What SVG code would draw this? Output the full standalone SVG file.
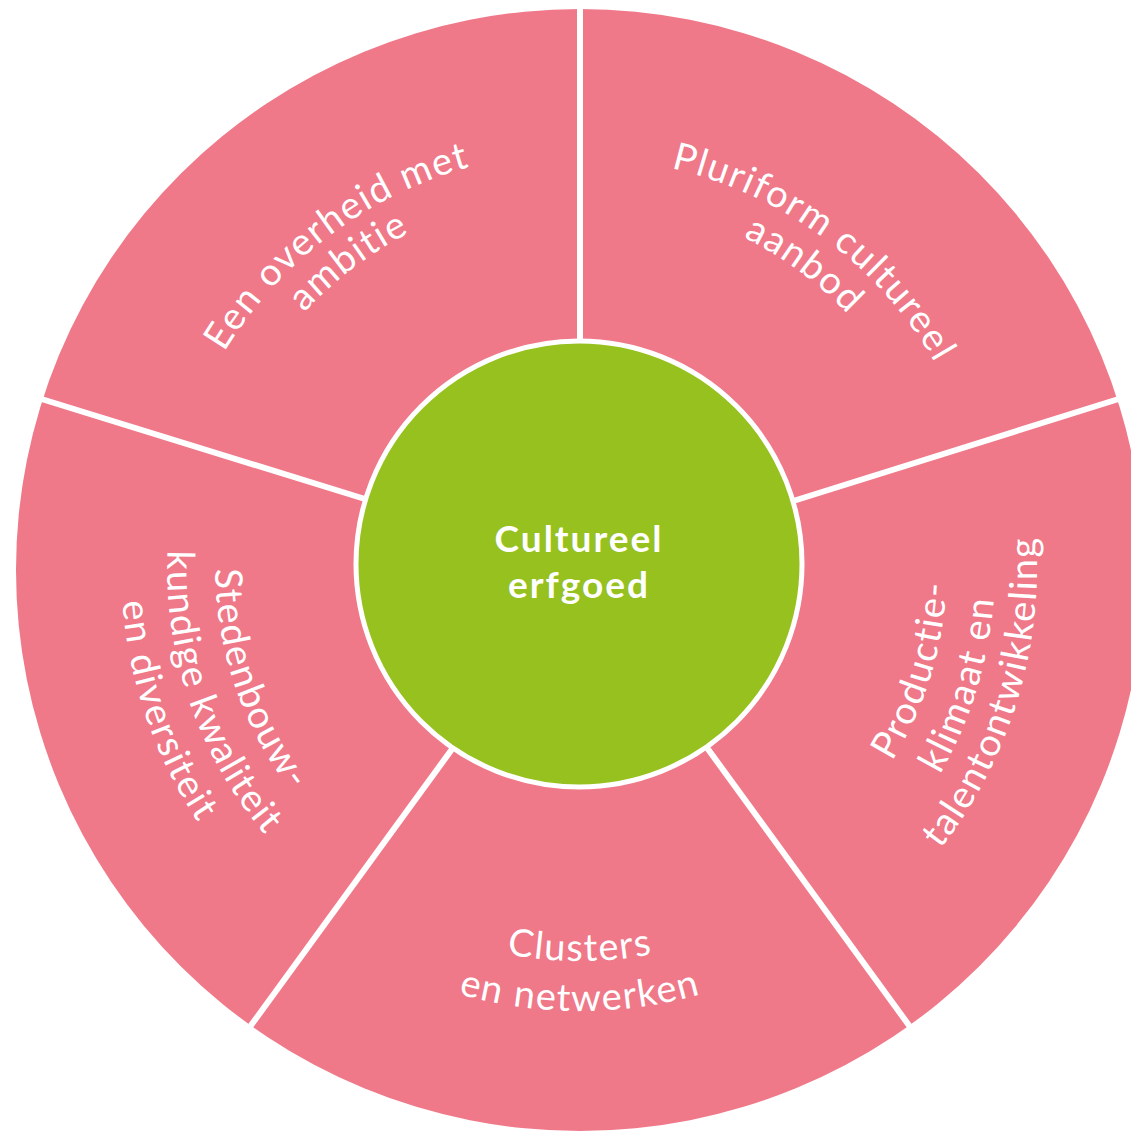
<svg xmlns="http://www.w3.org/2000/svg" xmlns:xlink="http://www.w3.org/1999/xlink" width="1131" height="1134" viewBox="0 0 1131 1134">
<style>
.seg{fill:#EF7889}
.sep{stroke:#FFFFFF;stroke-width:6;fill:none}
.lbl{font-family:Lato,"Liberation Sans",sans-serif;font-size:38px;fill:#FFFFFF;letter-spacing:1.5px}
.ctr{font-family:Lato,"Liberation Sans",sans-serif;font-size:37px;font-weight:700;fill:#FFFFFF;letter-spacing:2px;text-anchor:middle}
</style>
<defs>
<path id="p1a" d="M182.2,689.6 A416,416 0 0 1 806.6,219.1"/>
<path id="p1b" d="M220.4,677.9 A376,376 0 0 1 784.8,252.7"/>
<path id="p2a" d="M353.7,226.1 A410,410 0 0 1 973.1,684.4"/>
<path id="p2b" d="M376.3,260.3 A369,369 0 0 1 933.8,672.8"/>
<path id="p3a" d="M210.7,702.4 A393,393 0 0 0 949.3,702.4"/>
<path id="p3b" d="M163.7,719.5 A443,443 0 0 0 996.3,719.5"/>
<path id="p4a" d="M350.3,284.4 A365,365 0 0 0 573.6,932.9"/>
<path id="p4b" d="M320.1,247.1 A413,413 0 0 0 572.8,980.9"/>
<path id="p4c" d="M291.2,211.3 A459,459 0 0 0 572.0,1026.9"/>
<path id="p5a" d="M599.2,934.5 A367,367 0 0 0 800.9,274.9"/>
<path id="p5b" d="M601.7,982.4 A415,415 0 0 0 829.7,236.6"/>
<path id="p5c" d="M603.9,1024.4 A457,457 0 0 0 855.0,203.0"/>
</defs>
<rect width="1131" height="1134" fill="#FFFFFF"/>
<g id="wheel">
<ellipse class="seg" cx="580" cy="570" rx="564" ry="561"/>
</g>
<g id="connectors">
<line class="sep" x1="580" y1="0" x2="580" y2="350"/>
<line class="sep" x1="1125" y1="397" x2="790" y2="502"/>
<line class="sep" x1="35" y1="397" x2="365" y2="499"/>
<line class="sep" x1="244" y1="1035" x2="455" y2="745"/>
<line class="sep" x1="916" y1="1035" x2="705" y2="745"/>
</g>
<g id="node-overheid">
<text class="lbl" text-anchor="middle"><textPath xlink:href="#p1a" href="#p1a" startOffset="50%">Een overheid met</textPath></text>
<text class="lbl" text-anchor="middle"><textPath xlink:href="#p1b" href="#p1b" startOffset="50%">ambitie</textPath></text>
</g>
<g id="node-pluriform">
<text class="lbl" text-anchor="middle"><textPath xlink:href="#p2a" href="#p2a" startOffset="50%">Pluriform cultureel</textPath></text>
<text class="lbl" text-anchor="middle"><textPath xlink:href="#p2b" href="#p2b" startOffset="50%">aanbod</textPath></text>
</g>
<g id="node-clusters">
<text class="lbl" text-anchor="middle"><textPath xlink:href="#p3a" href="#p3a" startOffset="50%">Clusters</textPath></text>
<text class="lbl" text-anchor="middle"><textPath xlink:href="#p3b" href="#p3b" startOffset="50%">en netwerken</textPath></text>
</g>
<g id="node-stedenbouw">
<text class="lbl" text-anchor="middle"><textPath xlink:href="#p4a" href="#p4a" startOffset="50%">Stedenbouw-</textPath></text>
<text class="lbl" text-anchor="middle"><textPath xlink:href="#p4b" href="#p4b" startOffset="50%">kundige kwaliteit</textPath></text>
<text class="lbl" text-anchor="middle"><textPath xlink:href="#p4c" href="#p4c" startOffset="50%">en diversiteit</textPath></text>
</g>
<g id="node-productie">
<text class="lbl" text-anchor="middle"><textPath xlink:href="#p5a" href="#p5a" startOffset="50%">Productie-</textPath></text>
<text class="lbl" text-anchor="middle"><textPath xlink:href="#p5b" href="#p5b" startOffset="50%">klimaat en</textPath></text>
<text class="lbl" text-anchor="middle"><textPath xlink:href="#p5c" href="#p5c" startOffset="50%">talentontwikkeling</textPath></text>
</g>
<g id="node-center">
<circle cx="579" cy="564" r="223" fill="#96C11F" stroke="#FFFFFF" stroke-width="5"/>
<text class="ctr" x="579" y="552">Cultureel</text>
<text class="ctr" x="579" y="598">erfgoed</text>
</g>
</svg>
